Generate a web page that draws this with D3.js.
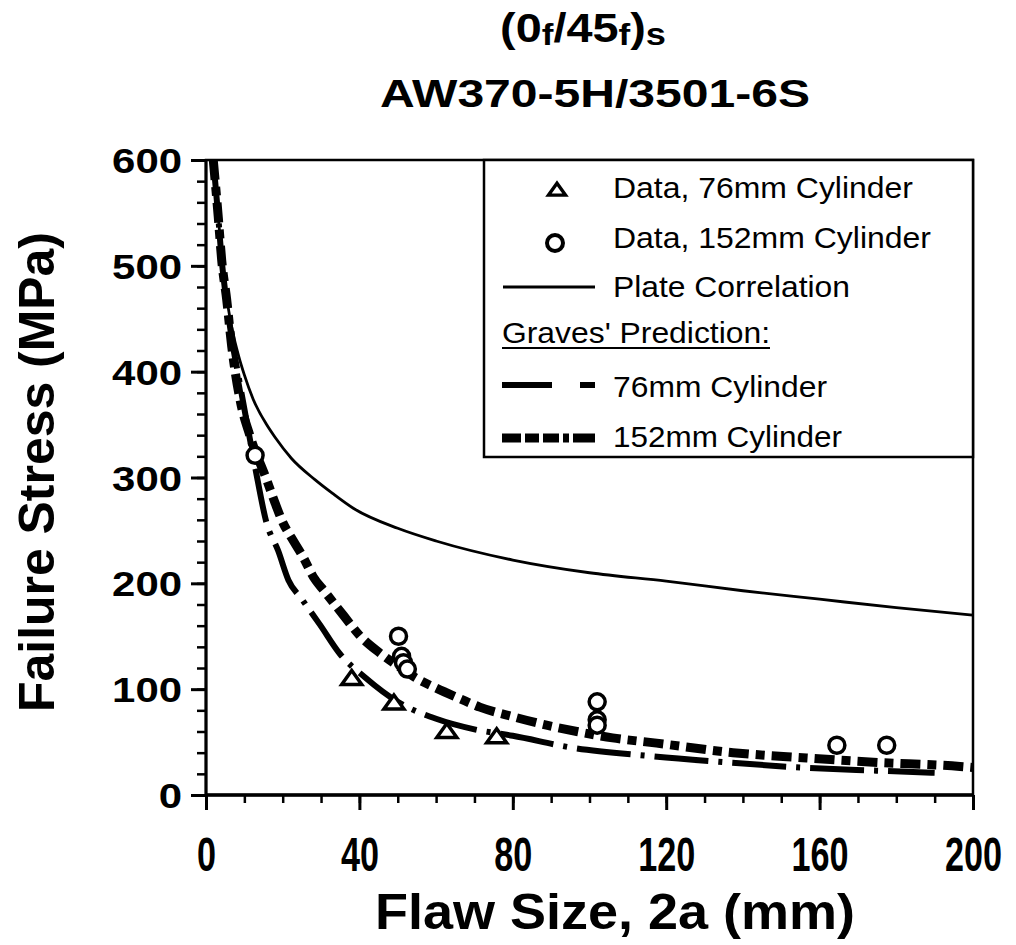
<!DOCTYPE html>
<html><head><meta charset="utf-8">
<script src="https://cdn.jsdelivr.net/npm/d3@7"></script>
<style>
body{margin:0;background:#fff}
svg{display:block}
text{font-family:"Liberation Sans",Arial,Helvetica,sans-serif;fill:#000}
</style>
</head><body>
<svg id="chart" width="1016" height="945"></svg>
<script>
// ---------- data ----------
const xTickValues = [0, 40, 80, 120, 160, 200];
const yTickValues = [0, 100, 200, 300, 400, 500, 600];

const data76X = [38, 49, 62.8, 75.8];
const data76Y = [110, 87, 60, 55];

const data152X = [12.8, 50.2, 51, 51.5, 52.5, 102, 102, 102, 164.5, 177.5];
const data152Y = [321, 150, 131, 125, 119, 88, 71, 66, 47, 47];

const plateX = [1.9, 3.2, 4.1, 5.4, 7, 8.5, 10, 12.3, 15.8, 18, 22.3, 28.4, 33, 38.4, 50, 60, 80, 100, 120, 140, 160, 180, 200];
const plateY = [600, 546, 510, 470, 437, 415, 397, 374, 350, 338, 318, 298, 285, 271, 252, 240, 222, 210, 202, 193, 185, 177, 170];

const graves76X = [1.9, 3.2, 4.1, 5.4, 7, 8.5, 10.5, 12.8, 15.8, 18.8, 21.5, 25, 29.7, 35, 41.5, 50, 60, 70, 80, 95, 115, 135, 155, 175, 190];
const graves76Y = [600, 546, 505, 465, 425, 395, 355, 310, 257, 231, 203, 185, 161, 133, 111, 88, 72, 62, 56, 45, 37, 31, 26, 23, 21];

const graves152X = [1.9, 3.2, 4.1, 5.4, 6.7, 8.9, 11.5, 15.8, 18, 20.1, 22.3, 25.3, 28, 31, 35.8, 40, 45.4, 50, 55, 60, 66.2, 71.4, 80, 88.8, 96.7, 106, 117.5, 137.4, 156.6, 174, 196.6, 200];
const graves152Y = [600, 546, 505, 468, 424, 373, 339, 298, 276, 257, 243, 225, 206, 192, 170, 151, 134, 122, 110, 101, 91, 83, 74, 66, 60, 54, 49, 40, 35, 31, 27, 26];

const legendLabels = ["Data, 76mm Cylinder", "Data, 152mm Cylinder", "Plate Correlation", "Graves' Prediction:", "76mm Cylinder", "152mm Cylinder"];
const titleMain = "AW370-5H/3501-6S";
const xTitle = "Flaw Size, 2a (mm)";
const yTitle = "Failure Stress (MPa)";

// ---------- layout ----------
const L = {left: 206, right: 973, top: 160, bottom: 795};
const svg = d3.select("#chart");

const x = d3.scaleLinear().domain([0, 200]).range([L.left, L.right]);
const y = d3.scaleLinear().domain([0, 600]).range([L.bottom, L.top]);

// ---------- titles ----------
const t1 = svg.append("text")
  .attr("transform", "translate(583,42) scale(1.17,1)")
  .attr("text-anchor", "middle")
  .style("font-weight", "bold").style("font-size", "40px");
t1.append("tspan").text("(0");
t1.append("tspan").attr("dy", 3).style("font-size", "30px").text("f");
t1.append("tspan").attr("dy", -3).text("/45");
t1.append("tspan").attr("dy", 3).style("font-size", "30px").text("f");
t1.append("tspan").attr("dy", -3).text(")");
t1.append("tspan").attr("dy", 3).style("font-size", "31px").text("s");

svg.append("text").attr("x", 595).attr("y", 107)
  .attr("text-anchor", "middle")
  .attr("textLength", 430).attr("lengthAdjust", "spacingAndGlyphs")
  .style("font-weight", "bold").style("font-size", "38px")
  .text(titleMain);

// ---------- axes ----------
const xMinor = d3.range(0, 201, 10);
const yMinor = d3.range(0, 601, 20);

svg.append("g").attr("transform", `translate(0,${L.bottom})`)
  .call(d3.axisBottom(x).tickValues(xMinor).tickSize(8).tickSizeOuter(0).tickFormat(""))
  .call(g => g.select(".domain").remove())
  .call(g => g.selectAll("line").attr("stroke", "#000").attr("stroke-width", 2.5));
svg.append("g").attr("transform", `translate(0,${L.bottom})`)
  .call(d3.axisBottom(x).tickValues(xTickValues).tickSize(15).tickSizeOuter(0).tickFormat(d3.format("d")))
  .call(g => g.select(".domain").remove())
  .call(g => g.selectAll("line").attr("stroke", "#000").attr("stroke-width", 3))
  .call(g => g.selectAll("text")
    .attr("y", 76).attr("dy", 0)
    .attr("textLength", d => 19 * String(d).length).attr("lengthAdjust", "spacingAndGlyphs")
    .style("font-size", "48px").style("font-weight", "bold").attr("fill", "#000"));

svg.append("g").attr("transform", `translate(${L.left},0)`)
  .call(d3.axisLeft(y).tickValues(yMinor).tickSize(9).tickSizeOuter(0).tickFormat(""))
  .call(g => g.select(".domain").remove())
  .call(g => g.selectAll("line").attr("stroke", "#000").attr("stroke-width", 2.5));
svg.append("g").attr("transform", `translate(${L.left},0)`)
  .call(d3.axisLeft(y).tickValues(yTickValues).tickSize(15).tickSizeOuter(0).tickFormat(d3.format("d")))
  .call(g => g.select(".domain").remove())
  .call(g => g.selectAll("line").attr("stroke", "#000").attr("stroke-width", 3))
  .call(g => g.selectAll("text")
    .attr("x", -24).attr("dy", "0.36em")
    .attr("textLength", d => 23.3 * String(d).length).attr("lengthAdjust", "spacingAndGlyphs")
    .style("font-size", "35px").style("font-weight", "bold").attr("fill", "#000"));

// frame
svg.append("path")
  .attr("d", `M${L.left},${L.bottom}H${L.right}V${L.top}H${L.left}V${L.bottom}`)
  .attr("fill", "none").attr("stroke", "#000").attr("stroke-width", 2.5);
svg.append("line").attr("x1", L.left - 1).attr("x2", L.right + 1).attr("y1", L.bottom).attr("y2", L.bottom)
  .attr("stroke", "#000").attr("stroke-width", 3.5);
svg.append("line").attr("x1", L.left).attr("x2", L.left).attr("y1", L.top).attr("y2", L.bottom + 1)
  .attr("stroke", "#000").attr("stroke-width", 3);

// axis titles
svg.append("text").attr("x", 375).attr("y", 929)
  .attr("textLength", 480).attr("lengthAdjust", "spacingAndGlyphs")
  .style("font-size", "50px").style("font-weight", "bold").text(xTitle);
svg.append("text")
  .attr("transform", "translate(54,472) rotate(-90)")
  .attr("text-anchor", "middle")
  .attr("textLength", 480).attr("lengthAdjust", "spacingAndGlyphs")
  .style("font-size", "50px").style("font-weight", "bold").text(yTitle);

// ---------- curves ----------
const line = d3.line().x(d => x(d[0])).y(d => y(d[1])).curve(d3.curveMonotoneX);
const zip = (a, b) => a.map((v, i) => [v, b[i]]);

const plot = svg.append("g");
plot.append("path").datum(zip(plateX, plateY)).attr("d", line)
  .attr("fill", "none").attr("stroke", "#000").attr("stroke-width", 2.8);
plot.append("path").datum(zip(graves76X, graves76Y)).attr("d", line)
  .attr("fill", "none").attr("stroke", "#000").attr("stroke-width", 6)
  .attr("stroke-dasharray", "54,10,4,10");
plot.append("path").datum(zip(graves152X, graves152Y)).attr("d", line)
  .attr("fill", "none").attr("stroke", "#000").attr("stroke-width", 9)
  .attr("stroke-dasharray", "20,7,9,7");

// ---------- markers ----------
const triPath = "M0,-8L10,6L-10,6Z";
plot.selectAll(".tri").data(zip(data76X, data76Y)).join("path")
  .attr("class", "tri").attr("d", triPath)
  .attr("transform", d => `translate(${x(d[0])},${y(d[1])})`)
  .attr("fill", "#fff").attr("stroke", "#000").attr("stroke-width", 3.5).attr("stroke-linejoin", "miter");
plot.selectAll(".circ").data(zip(data152X, data152Y)).join("circle")
  .attr("class", "circ").attr("cx", d => x(d[0])).attr("cy", d => y(d[1])).attr("r", 8)
  .attr("fill", "#fff").attr("stroke", "#000").attr("stroke-width", 3.5);

// ---------- legend ----------
const lg = svg.append("g");
lg.append("rect").attr("x", 484).attr("y", L.top).attr("width", L.right - 484).attr("height", 457 - L.top)
  .attr("fill", "#fff").attr("stroke", "#000").attr("stroke-width", 2.5);
lg.append("path").attr("d", triPath).attr("transform", "translate(557,190) scale(0.85,0.85)")
  .attr("fill", "#fff").attr("stroke", "#000").attr("stroke-width", 4);
lg.append("circle").attr("cx", 555).attr("cy", 243).attr("r", 8)
  .attr("fill", "#fff").attr("stroke", "#000").attr("stroke-width", 4);
lg.append("line").attr("x1", 503).attr("x2", 595).attr("y1", 287).attr("y2", 287)
  .attr("stroke", "#000").attr("stroke-width", 2.8);
lg.append("line").attr("x1", 502).attr("x2", 595).attr("y1", 385).attr("y2", 385)
  .attr("stroke", "#000").attr("stroke-width", 6).attr("stroke-dasharray", "50,28,15");
lg.append("line").attr("x1", 502).attr("x2", 595).attr("y1", 438).attr("y2", 438)
  .attr("stroke", "#000").attr("stroke-width", 9).attr("stroke-dasharray", "19,4,14,4,16,4,6,4,22");

const legendText = [
  {x: 613, y: 198, w: 300},
  {x: 613, y: 248, w: 318},
  {x: 613, y: 297, w: 237},
  {x: 502, y: 343, w: 268},
  {x: 613, y: 397, w: 214},
  {x: 613, y: 447, w: 229}
];
legendLabels.forEach((lab, i) => {
  lg.append("text").attr("x", legendText[i].x).attr("y", legendText[i].y)
    .attr("textLength", legendText[i].w).attr("lengthAdjust", "spacingAndGlyphs")
    .style("font-size", "30px").text(lab);
});
lg.append("line").attr("x1", 502).attr("x2", 770).attr("y1", 348).attr("y2", 348)
  .attr("stroke", "#000").attr("stroke-width", 2);
</script>
</body></html>
